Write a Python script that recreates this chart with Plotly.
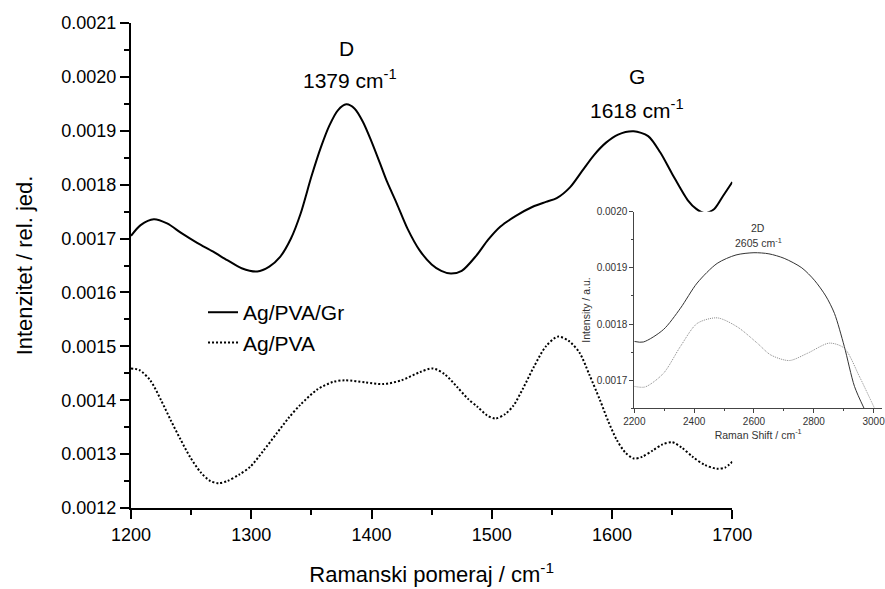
import plotly.graph_objects as go

# ---------------- main chart data ----------------
gr_x = [1200, 1208, 1219, 1230, 1242, 1255, 1268, 1280, 1292, 1305, 1315, 1324, 1333, 1341,
        1350, 1358, 1365, 1372, 1379, 1386, 1393, 1400, 1407, 1413, 1421, 1430, 1440, 1450,
        1458, 1466, 1475, 1487, 1497, 1507, 1520, 1534, 1545, 1554, 1565, 1575, 1585, 1595,
        1605, 1618, 1630, 1640, 1650, 1663, 1670, 1677, 1685, 1692, 1700]
gr_y = [0.001705, 0.001725, 0.001736, 0.001728, 0.001710, 0.001692, 0.001676, 0.001660, 0.001645,
        0.001639, 0.001648, 0.001666, 0.001700, 0.001746, 0.001815, 0.001870, 0.001910, 0.001938,
        0.001949, 0.001941, 0.001916, 0.001880, 0.001840, 0.001805, 0.001765, 0.001718, 0.001678,
        0.001652, 0.001640, 0.001635, 0.001640, 0.001668, 0.001698, 0.001722, 0.001742, 0.001759,
        0.001768, 0.001775, 0.001795, 0.001825, 0.001855, 0.001878, 0.001893, 0.001899, 0.001890,
        0.001860, 0.001820, 0.001771, 0.001755, 0.001747, 0.001755, 0.001778, 0.001805]

pva_x = [1200, 1207, 1216, 1225, 1233, 1241, 1249, 1258, 1266, 1273, 1280, 1290, 1299, 1310,
         1321, 1331, 1341, 1355, 1368, 1378, 1395, 1410, 1425, 1440, 1451, 1461, 1471, 1480,
         1488, 1496, 1503, 1511, 1518, 1526, 1535, 1545, 1555, 1564, 1573, 1581, 1590, 1597,
         1604, 1611, 1618, 1625, 1634, 1642, 1650, 1658, 1667, 1677, 1687, 1694, 1700]
pva_y = [0.001459, 0.001456, 0.001437, 0.001400, 0.001363, 0.001328, 0.001295, 0.001266, 0.001250,
         0.001246, 0.001250, 0.001262, 0.001276, 0.001306, 0.001338, 0.001367, 0.001392, 0.001420,
         0.001434, 0.001437, 0.001433, 0.001430, 0.001437, 0.001452, 0.001459, 0.001448, 0.001425,
         0.001403, 0.001388, 0.001372, 0.001366, 0.001374, 0.001390, 0.001422, 0.001462, 0.001500,
         0.001518, 0.001510, 0.001488, 0.001448, 0.001400, 0.001360, 0.001326, 0.001303, 0.001292,
         0.001295, 0.001307, 0.001318, 0.001322, 0.001312, 0.001295, 0.001280, 0.001273, 0.001275,
         0.001286]

main_xticks = [1200, 1300, 1400, 1500, 1600, 1700]
main_yticks = [0.0012, 0.0013, 0.0014, 0.0015, 0.0016, 0.0017, 0.0018, 0.0019, 0.0020, 0.0021]

# ---------------- inset data ----------------
in_gr_x = [2200, 2230, 2297, 2354, 2410, 2477, 2540, 2600, 2650, 2701, 2760, 2802, 2840, 2869,
           2902, 2936, 2968]
in_gr_y = [0.001769, 0.001768, 0.001790, 0.001828, 0.001873, 0.001908, 0.001923, 0.001927,
           0.001925, 0.001917, 0.001900, 0.001878, 0.001850, 0.001819, 0.001760, 0.001689, 0.001650]

in_pva_x = [2200, 2236, 2297, 2354, 2410, 2477, 2544, 2611, 2656, 2718, 2779, 2852, 2902, 2953, 3003]
in_pva_y = [0.001689, 0.001688, 0.001712, 0.001760, 0.001801, 0.001811, 0.001795, 0.001766,
            0.001745, 0.001735, 0.001748, 0.001766, 0.001757, 0.001706, 0.001650]

inset_xticks = [2200, 2400, 2600, 2800, 3000]
inset_yticks = [0.0017, 0.0018, 0.0019, 0.0020]

FONT = "Liberation Sans, Arial, sans-serif"

fig = go.Figure()
fig.add_trace(go.Scatter(x=gr_x, y=gr_y, mode="lines", name="Ag/PVA/Gr",
                         line=dict(color="black", width=2, shape="spline", smoothing=0.8)))
fig.add_trace(go.Scatter(x=pva_x, y=pva_y, mode="lines", name="Ag/PVA",
                         line=dict(color="black", width=2, dash="2px,2px", shape="spline",
                                   smoothing=0.8)))
fig.add_trace(go.Scatter(x=in_gr_x, y=in_gr_y, mode="lines", showlegend=False,
                         xaxis="x2", yaxis="y2",
                         line=dict(color="#333333", width=1, shape="spline", smoothing=0.8)))
fig.add_trace(go.Scatter(x=in_pva_x, y=in_pva_y, mode="lines", showlegend=False,
                         xaxis="x2", yaxis="y2",
                         line=dict(color="#888888", width=1, dash="1px,1px", shape="spline",
                                   smoothing=0.8)))

axis_common = dict(showline=True, linecolor="black", showgrid=False, zeroline=False,
                   ticks="outside", tickcolor="black", mirror=False, automargin=False)

fig.update_layout(
    width=885, height=589,
    margin=dict(l=131, r=3, t=23, b=81, autoexpand=False),
    paper_bgcolor="white", plot_bgcolor="white",
    font=dict(family=FONT, color="black"),
    showlegend=True,
    legend=dict(x=0.0959, y=0.372, xanchor="left", yanchor="middle",
                font=dict(size=21, family=FONT, color="black"),
                bgcolor="rgba(0,0,0,0)", borderwidth=0, tracegroupgap=0),
    xaxis=dict(**axis_common, domain=[0, 0.8007], range=[1200, 1700], linewidth=2,
               tickvals=main_xticks, ticktext=[str(v) for v in main_xticks],
               ticklen=9, tickwidth=1.5, tickfont=dict(size=18),
               minor=dict(ticks="outside", dtick=50, tick0=1200, ticklen=5, tickwidth=1.5,
                          tickcolor="black", showgrid=False),
               title=dict(text="Ramanski pomeraj / cm<sup>-1</sup>", font=dict(size=22),
                          standoff=23),
               anchor="y"),
    yaxis=dict(**axis_common, domain=[0, 1], range=[0.0012, 0.0021], linewidth=2,
               tickvals=main_yticks, ticktext=["%.4f" % v for v in main_yticks],
               ticklen=9, tickwidth=1.5, tickfont=dict(size=18),
               minor=dict(ticks="outside", dtick=0.00005, tick0=0.0012, ticklen=5,
                          tickwidth=1.5, tickcolor="black", showgrid=False),
               title=dict(text="Intenzitet / rel. jed.", font=dict(size=22), standoff=23),
               anchor="x"),
    xaxis2=dict(showline=True, linecolor="#444444", linewidth=1, showgrid=False,
                zeroline=False, ticks="outside", tickcolor="#444444", automargin=False,
                domain=[0.6702, 1.0], range=[2200, 3028], anchor="y2",
                tickvals=inset_xticks, ticktext=[str(v) for v in inset_xticks],
                ticklabeloverflow="allow",
                ticklen=4, tickwidth=1, tickfont=dict(size=10, color="#333333"),
                minor=dict(ticks="outside", dtick=100, tick0=2200, ticklen=2, tickwidth=1,
                           tickcolor="#444444", showgrid=False),
                title=dict(text="Raman Shift / cm<sup>-1</sup>",
                           font=dict(size=10.5, color="#333333"), standoff=2)),
    yaxis2=dict(showline=True, linecolor="#444444", linewidth=1, showgrid=False,
                zeroline=False, ticks="outside", tickcolor="#444444", automargin=False,
                domain=[0.2056, 0.6109], range=[0.00165, 0.0020], anchor="x2",
                tickvals=inset_yticks, ticktext=["%.4f" % v for v in inset_yticks],
                ticklen=4, tickwidth=1, tickfont=dict(size=10, color="#333333"),
                minor=dict(ticks="outside", dtick=0.00005, tick0=0.00165, ticklen=2,
                           tickwidth=1, tickcolor="#444444", showgrid=False),
                title=dict(text="Intensity / a.u.", font=dict(size=10.5, color="#333333"),
                           standoff=4)),
    annotations=[
        dict(x=1379, y=0.0020525, xref="x", yref="y", text="D", showarrow=False,
             font=dict(size=21, family=FONT, color="black")),
        dict(x=1382, y=0.0019970, xref="x", yref="y", text="1379 cm<sup>-1</sup>",
             showarrow=False, font=dict(size=21, family=FONT, color="black")),
        dict(x=1621, y=0.0020, xref="x", yref="y", text="G", showarrow=False,
             font=dict(size=21, family=FONT, color="black")),
        dict(x=1621, y=0.001940, xref="x", yref="y", text="1618 cm<sup>-1</sup>",
             showarrow=False, font=dict(size=21, family=FONT, color="black")),
        dict(x=2614, y=0.001971, xref="x2", yref="y2", text="2D", showarrow=False,
             font=dict(size=10.5, family=FONT, color="#333333")),
        dict(x=2614, y=0.001946, xref="x2", yref="y2", text="2605 cm<sup>-1</sup>",
             showarrow=False, font=dict(size=10.5, family=FONT, color="#333333")),
    ],
)

fig.write_html("out.html", config={"displayModeBar": False},
               post_script="document.body.style.margin='0';document.body.style.overflow='hidden';")
